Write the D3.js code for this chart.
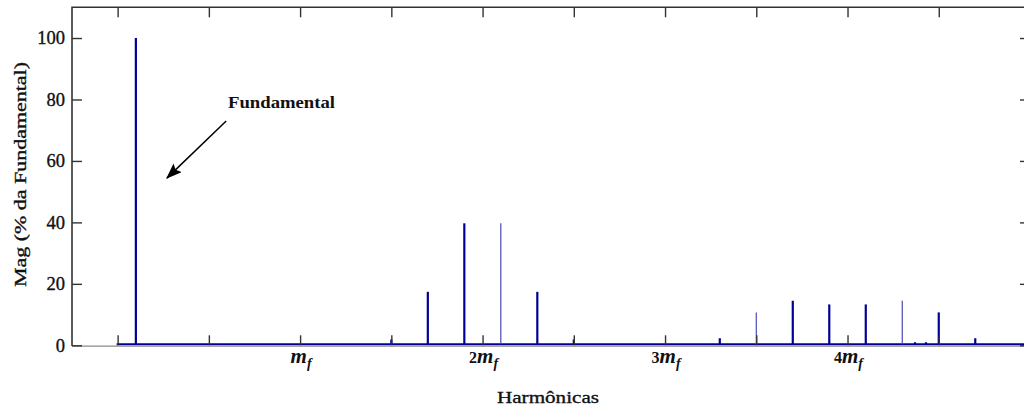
<!DOCTYPE html>
<html>
<head>
<meta charset="utf-8">
<script src="https://cdn.jsdelivr.net/npm/d3@7"></script>
<style>
  html, body { margin: 0; padding: 0; background: #ffffff; }
  svg { display: block; }
  text { font-family: "Liberation Serif", "Times New Roman", serif; fill: #111; }
  text.heavy { stroke: #111; stroke-width: 0.35px; }
</style>
</head>
<body>
<svg id="chart" width="1024" height="409"></svg>
<script>
// Harmonic spectrum of the output voltage (mf = 10)
const harmonicOrder = [1, 15, 17, 19, 21, 23, 25, 33, 35, 37, 39, 41, 43, 43.7, 44.3, 45, 47];
const magnitude     = [100, 1.9, 17.4, 39.7, 39.7, 17.4, 1.9, 2.3, 10.7, 14.5, 13.3, 13.3, 14.5, 1.0, 1.0, 10.7, 2.3];

const mf = 10;
const xTickValues = [0, 5, 10, 15, 20, 25, 30, 35, 40, 45];
const xLabelMultiples = [1, 2, 3, 4];          // labelled as k·mf
const yTickValues = [0, 20, 40, 60, 80, 100];

const yTitle = "Mag (% da Fundamental)";
const xTitle = "Harmônicas";
const noteText = "Fundamental";
const noteTextAt = [6.05, 77.2];   // harmonic order, % of fundamental
const noteArrowFrom = [5.95, 73.0];
const noteArrowTo = [2.7, 54.4];

// thinner, lighter stems
const lightStems = new Set([21, 35, 43]);

const svg = d3.select("#chart");
const plotLeft = 72, plotRight = 1030, plotTop = 7.3, plotBottom = 345.3;

const x = d3.scaleLinear().domain([-2.5, 50]).range([plotLeft, plotRight]);
const y = d3.scaleLinear().domain([0, 110]).range([plotBottom, plotTop]);

const axisColor = "#333";

// zero line of the spectrum
svg.append("line")
  .attr("x1", x(0) - 1).attr("x2", 1024)
  .attr("y1", y(0) - 1).attr("y2", y(0) - 1)
  .attr("stroke", "#000096").attr("stroke-width", 2);

// stems
const data = harmonicOrder.map((h, i) => ({ h, v: magnitude[i] }));
svg.append("g").selectAll("line").data(data).join("line")
  .attr("x1", d => x(d.h)).attr("x2", d => x(d.h))
  .attr("y1", y(0) - 1).attr("y2", d => y(d.v))
  .attr("stroke", d => lightStems.has(d.h) ? "#4a4ab4" : "#000096")
  .attr("stroke-width", d => lightStems.has(d.h) ? 1.2 : 2.2);

// frame
svg.append("path")
  .attr("d", `M${plotLeft},${plotBottom + 0.7}V${plotTop}H1024`)
  .attr("fill", "none").attr("stroke", axisColor).attr("stroke-width", 1.6);
svg.append("line")
  .attr("x1", plotLeft).attr("x2", 1024).attr("y1", plotBottom + 0.8).attr("y2", plotBottom + 0.8)
  .attr("stroke", "#8a8a8a").attr("stroke-width", 1.2);

function styleAxis(g) {
  g.select(".domain").remove();
  g.selectAll(".tick line").attr("stroke", axisColor).attr("stroke-width", 1.4);
}

// bottom axis (ticks inward)
svg.append("g")
  .attr("transform", `translate(0,${plotBottom})`)
  .call(d3.axisBottom(x).tickValues(xTickValues).tickSizeInner(-10).tickSizeOuter(0).tickFormat(""))
  .call(styleAxis);

// top axis
svg.append("g")
  .attr("transform", `translate(0,${plotTop})`)
  .call(d3.axisTop(x).tickValues(xTickValues).tickSizeInner(-10).tickSizeOuter(0).tickFormat(""))
  .call(styleAxis);

// left axis
svg.append("g")
  .attr("transform", `translate(${plotLeft},0)`)
  .call(d3.axisLeft(y).tickValues(yTickValues).tickSizeInner(-10).tickSizeOuter(0).tickPadding(7))
  .call(styleAxis)
  .call(g => g.selectAll(".tick text")
    .attr("class", "heavy")
    .attr("font-family", "Liberation Serif").attr("font-size", 18.5).attr("fill", "#111"));

// right axis
svg.append("g")
  .attr("transform", `translate(${plotRight},0)`)
  .call(d3.axisRight(y).tickValues(yTickValues).tickSizeInner(-10).tickSizeOuter(0).tickFormat(""))
  .call(styleAxis);

// k·mf labels under the axis
const xl = svg.append("g").selectAll("text").data(xLabelMultiples).join("text")
  .attr("x", k => x(k * mf) + 1)
  .attr("y", 363.3)
  .attr("text-anchor", "middle");
xl.each(function(k) {
  const t = d3.select(this);
  if (k > 1) t.append("tspan").attr("font-weight", "bold").attr("font-size", 16).text(k);
  t.append("tspan").attr("font-weight", "bold").attr("font-style", "italic").attr("font-size", 21).text("m");
  t.append("tspan").attr("font-weight", "bold").attr("font-style", "italic").attr("font-size", 14)
    .attr("dy", 5).text("f");
});

// axis titles
svg.append("text")
  .attr("class", "heavy")
  .attr("x", 548).attr("y", 403.3)
  .attr("text-anchor", "middle")
  .attr("font-size", 17.6)
  .attr("textLength", 102).attr("lengthAdjust", "spacingAndGlyphs")
  .text(xTitle);

svg.append("text")
  .attr("class", "heavy")
  .attr("transform", `translate(25.5,${(62 + 287) / 2}) rotate(-90)`)
  .attr("text-anchor", "middle")
  .attr("font-size", 17)
  .attr("textLength", 225).attr("lengthAdjust", "spacingAndGlyphs")
  .text(yTitle);

// annotation
svg.append("defs").append("marker")
  .attr("id", "arrowHead")
  .attr("viewBox", "0 0 16 12")
  .attr("refX", 15).attr("refY", 6)
  .attr("markerWidth", 16).attr("markerHeight", 12)
  .attr("markerUnits", "userSpaceOnUse")
  .attr("orient", "auto")
  .append("path").attr("d", "M0,0L16,6L0,12L3,6Z").attr("fill", "#000");

svg.append("line")
  .attr("x1", x(noteArrowFrom[0])).attr("y1", y(noteArrowFrom[1]))
  .attr("x2", x(noteArrowTo[0])).attr("y2", y(noteArrowTo[1]))
  .attr("stroke", "#000").attr("stroke-width", 1.5)
  .attr("marker-end", "url(#arrowHead)");

svg.append("text")
  .attr("x", x(noteTextAt[0])).attr("y", y(noteTextAt[1]))
  .attr("font-size", 16.6).attr("font-weight", "bold")
  .attr("textLength", 107).attr("lengthAdjust", "spacingAndGlyphs")
  .text(noteText);
</script>
</body>
</html>
